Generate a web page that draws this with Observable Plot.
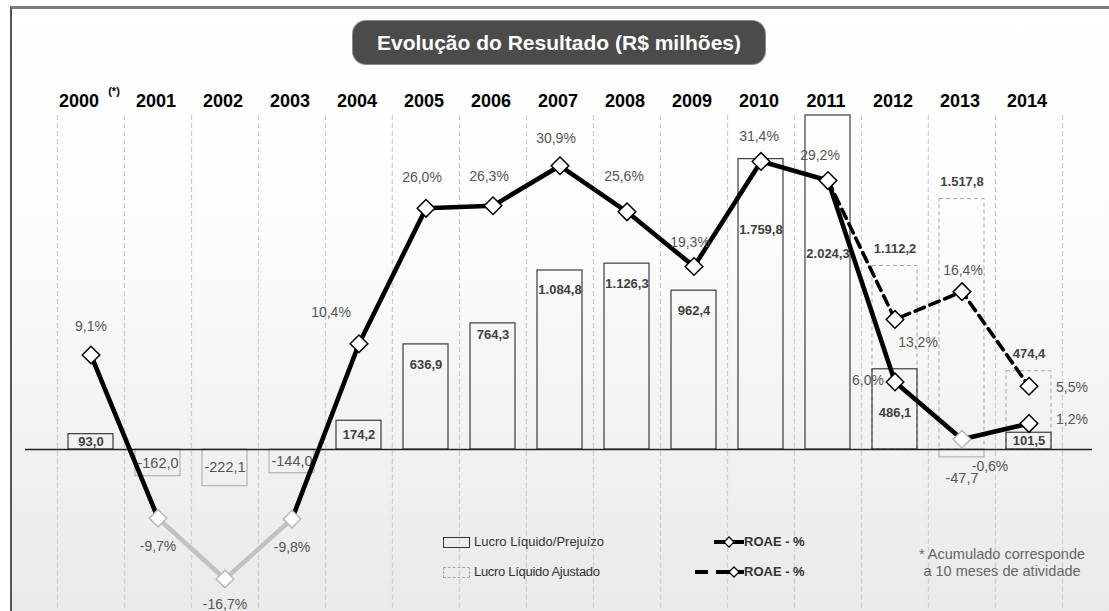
<!DOCTYPE html>
<html>
<head>
<meta charset="utf-8">
<script src="https://cdn.jsdelivr.net/npm/d3@7"></script>
<script src="https://cdn.jsdelivr.net/npm/@observablehq/plot@0.6"></script>
<style>
html,body{margin:0;padding:0;background:#fff;}
#wrap{position:relative;width:1109px;height:611px;overflow:hidden;font-family:"Liberation Sans",Arial,Helvetica,sans-serif;}
#frame{position:absolute;left:10px;top:6px;width:1130px;height:640px;border-left:2.5px solid #555;border-top:3px solid #7c7c7c;background:linear-gradient(to bottom,#ffffff 0%,#fcfcfc 35%,#f1f1f1 70%,#e8e8e8 100%);}
.layer{position:absolute;left:0;top:0;}
#title{position:absolute;left:353px;top:21px;width:412px;height:43px;border-radius:13px;background:#4b4b4b;color:#fff;font-weight:bold;font-size:21px;line-height:43px;text-align:center;box-shadow:0 0 0 1px #8a8a8a;}
.lg{position:absolute;font-size:13px;line-height:16px;color:#333;white-space:nowrap;}
.note{position:absolute;font-size:14.5px;line-height:17px;color:#666;white-space:nowrap;text-align:center;width:220px;}
</style>
</head>
<body>
<div id="wrap">
  <div id="frame"></div>
  <div id="bars" class="layer"></div>
  <div id="roae" class="layer"></div>
  <div id="title">Evolução do Resultado (R$ milhões)</div>
  <div id="legend"></div>
</div>
<script>
// ---------- data ----------
const years = ["2000","2001","2002","2003","2004","2005","2006","2007","2008","2009","2010","2011","2012","2013","2014"];
const lucro = [93.0, -162.0, -222.1, -144.0, 174.2, 636.9, 764.3, 1084.8, 1126.3, 962.4, 1759.8, 2024.3, 486.1, -47.7, 101.5];
const ajustadoYears = ["2012","2013","2014"];
const lucroAjustado = [1112.2, 1517.8, 474.4];
const roae = [9.1, -9.7, -16.7, -9.8, 10.4, 26.0, 26.3, 30.9, 25.6, 19.3, 31.4, 29.2, 6.0, -0.6, 1.2];
const roaeAjustadoYears = ["2011","2012","2013","2014"];
const roaeAjustado = [29.2, 13.2, 16.4, 5.5];
const legendLabels = ["Lucro Líquido/Prejuízo", "Lucro Líquido Ajustado", "ROAE - %", "ROAE - %"];
const noteLines = ["* Acumulado corresponde", "a 10 meses de atividade"];
const titleText = "Evolução do Resultado (R$ milhões)";

// ---------- layout (offsets only) ----------
const barLabelLayout = {"2000":"mid","2001":"mid","2002":"mid","2003":"mid","2004":"mid","2005":20,"2006":11,"2007":19,"2008":20,"2009":20,"2010":71,"2011":138,"2012":44,"2013":"below","2014":"mid"};
const roaeLabelLayout = {"2000":[0,-28],"2001":[0,28],"2002":[0,26],"2003":[0,28],"2004":[-28,-31],"2005":[-4,-31],"2006":[-4,-29],"2007":[-4,-27],"2008":[-3,-35],"2009":[-4,-24],"2010":[-2,-25],"2011":[-8,-25],"2012":[-27,-1],"2013":[28,27],"2014":[43,-4]};
const roaeAdjLabelLayout = {"2012":[23,23],"2013":[1,-21],"2014":[43,1]};

const W = 1109, H = 611;
const xRange = [56.5, 1062.5];
const step = (xRange[1] - xRange[0]) / years.length;
const loc = d3.formatLocale({decimal: ",", thousands: ".", grouping: [3], currency: ["R$", ""], minus: "-"});
const fmt = loc.format(",.1f");
const pct = v => fmt(v) + "%";

document.getElementById("title").textContent = titleText;

const solid = years.map((y, i) => ({year: y, v: lucro[i]}));
const adj = ajustadoYears.map((y, i) => ({year: y, v: lucroAjustado[i]}));
const xScale = {type: "band", domain: years, range: xRange, padding: 0, axis: null};

// ---------- bars layer ----------
const barMarks = [
  Plot.ruleX(years, {x: d => d, dx: -step / 2, stroke: "#cfcfcf", strokeWidth: 1.3, strokeDasharray: "5,3", insetTop: 115}),
  Plot.ruleX([years[years.length - 1]], {x: d => d, dx: step / 2, stroke: "#cfcfcf", strokeWidth: 1.3, strokeDasharray: "5,3", insetTop: 115}),
  Plot.barY(adj, {x: "year", y: "v", insetLeft: 11, insetRight: 11, fill: "none", stroke: "#a8a8a8", strokeWidth: 1, strokeDasharray: "4,3"}),
  Plot.barY(solid, {x: "year", y: "v", insetLeft: 11, insetRight: 11, fill: "none",
    stroke: d => d.v < 0 ? "#b4b4b4" : "#3d3d3d", strokeWidth: d => 1.2}),
  Plot.ruleY([0], {stroke: "#222", strokeWidth: 1.5, insetLeft: 25, insetRight: W - 1092}),
  // year labels
  Plot.text(years.slice(1), {x: d => d, frameAnchor: "top", dy: 94, dx: -2, text: d => d, fontSize: 18, fontWeight: "bold", fill: "#000"}),
  Plot.text([years[0]], {x: d => d, frameAnchor: "top", dy: 94, dx: -12, text: d => d, fontSize: 18, fontWeight: "bold", fill: "#000"}),
  Plot.text([years[0]], {x: d => d, frameAnchor: "top", dy: 87, dx: 23, text: () => "(*)", fontSize: 11, fontWeight: "bold", fill: "#000"}),
  // adjusted labels
  Plot.text(adj, {x: "year", y: "v", dy: -17, text: d => fmt(d.v), fontSize: 13, fontWeight: "bold", fill: "#444"})
];
solid.forEach(d => {
  const m = barLabelLayout[d.year];
  const neg = d.v < 0;
  const opts = {x: "year", text: e => fmt(e.v), fontSize: neg ? 14.5 : 13, fontWeight: neg ? "normal" : "bold", fill: neg ? "#555" : "#3f3f3f"};
  if (m === "mid") barMarks.push(Plot.text([d], {...opts, y: e => e.v / 2}));
  else if (m === "below") barMarks.push(Plot.text([d], {...opts, y: "v", dy: 21}));
  else barMarks.push(Plot.text([d], {...opts, y: "v", dy: m}));
});

const barPlot = Plot.plot({
  width: W, height: H, margin: 0,
  style: {background: "transparent", fontFamily: "'Liberation Sans', Arial, sans-serif", overflow: "visible"},
  x: xScale,
  y: {domain: [-900, 2500], range: [597.5, 36.5], axis: null},
  color: {type: "identity"},
  marks: barMarks
});
document.getElementById("bars").appendChild(barPlot);

// ---------- ROAE layer ----------
const diamond = {draw(ctx, size) { const r = Math.sqrt(size / 2); ctx.moveTo(0, -r); ctx.lineTo(r, 0); ctx.lineTo(0, r); ctx.lineTo(-r, 0); ctx.closePath(); }};
const pts = years.map((y, i) => ({year: y, p: roae[i]}));
const segs = pts.slice(1).map((d, i) => ({x1: pts[i].year, y1: pts[i].p, x2: d.year, y2: d.p}));
const adjPts = roaeAjustadoYears.map((y, i) => ({year: y, p: roaeAjustado[i]}));

const roaeMarks = [
  Plot.line(adjPts, {x: "year", y: "p", stroke: "#000", strokeWidth: 3.6, strokeDasharray: "10,6"}),
  Plot.link(segs.filter(s => !(s.y1 < 0 && s.y2 < 0)), {x1: "x1", y1: "y1", x2: "x2", y2: "y2", stroke: "#000", strokeWidth: 4.6, strokeLinecap: "round"}),
  Plot.link(segs.filter(s => s.y1 < 0 && s.y2 < 0), {x1: "x1", y1: "y1", x2: "x2", y2: "y2", stroke: "#c2c2c2", strokeWidth: 4.6, strokeLinecap: "round"}),
  Plot.dot(adjPts.slice(1), {x: "year", y: "p", symbol: diamond, r: 7, fill: "#fff", stroke: "#000", strokeWidth: 1.5}),
  Plot.dot(pts, {x: "year", y: "p", symbol: diamond, r: 7, fill: "#fff", stroke: d => d.p < 0 ? "#b8b8b8" : "#000", strokeWidth: 1.5})
];
pts.forEach(d => {
  const [dx, dy] = roaeLabelLayout[d.year];
  roaeMarks.push(Plot.text([d], {x: "year", y: "p", dx, dy, text: e => pct(e.p), fontSize: 14, fill: "#555"}));
});
adjPts.slice(1).forEach(d => {
  const [dx, dy] = roaeAdjLabelLayout[d.year];
  roaeMarks.push(Plot.text([d], {x: "year", y: "p", dx, dy, text: e => pct(e.p), fontSize: 14, fill: "#555"}));
});

const roaePlot = Plot.plot({
  width: W, height: H, margin: 0,
  style: {background: "transparent", fontFamily: "'Liberation Sans', Arial, sans-serif", overflow: "visible"},
  x: xScale,
  y: {domain: [-20, 45], range: [607.1, 42.9], axis: null},
  color: {type: "identity"},
  marks: roaeMarks
});
document.getElementById("roae").appendChild(roaePlot);

// ---------- legend & note ----------
const lg = document.getElementById("legend");
lg.innerHTML = `
<div style="position:absolute;left:443px;top:537px;width:25px;height:9px;border:1.3px solid #333;"></div>
<div class="lg" style="left:474px;top:534px;">${legendLabels[0]}</div>
<div style="position:absolute;left:443px;top:567px;width:25px;height:9px;border:1px dashed #aaa;"></div>
<div class="lg" style="left:474px;top:564px;letter-spacing:-0.3px;">${legendLabels[1]}</div>
<svg style="position:absolute;left:690px;top:532px;" width="60" height="50">
  <line x1="24" y1="10" x2="54" y2="10" stroke="#000" stroke-width="4"/>
  <path d="M39,5 L44,10 L39,15 L34,10 Z" fill="#fff" stroke="#000" stroke-width="1.3"/>
  <line x1="5" y1="40" x2="18" y2="40" stroke="#000" stroke-width="4"/>
  <line x1="26" y1="40" x2="54" y2="40" stroke="#000" stroke-width="4"/>
  <path d="M44,35 L49,40 L44,45 L39,40 Z" fill="#fff" stroke="#000" stroke-width="1.3"/>
</svg>
<div class="lg" style="left:744px;top:534px;font-weight:bold;">${legendLabels[2]}</div>
<div class="lg" style="left:744px;top:564px;font-weight:bold;">${legendLabels[3]}</div>
<div class="note" style="left:892px;top:546px;">${noteLines[0]}</div>
<div class="note" style="left:892px;top:563px;">${noteLines[1]}</div>
`;
</script>
</body>
</html>
